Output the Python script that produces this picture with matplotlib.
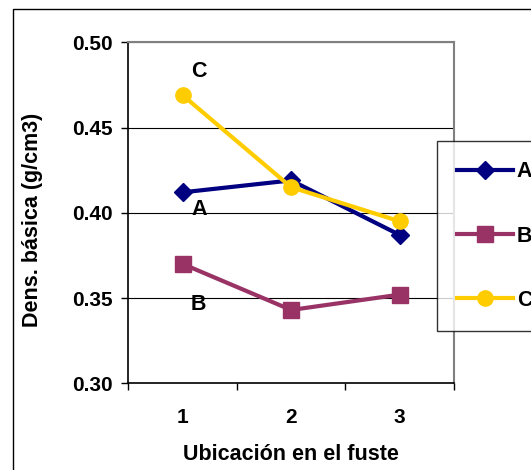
import matplotlib.pyplot as plt
from matplotlib.patches import Rectangle

# Densidad básica por ubicación en el fuste
posiciones = [1, 2, 3]
etiquetas_x = ["1", "2", "3"]
dens_a = [0.412, 0.419, 0.387]
dens_b = [0.370, 0.343, 0.352]
dens_c = [0.469, 0.415, 0.395]

plt.rcParams["font.family"] = ["Liberation Sans", "DejaVu Sans"]
plt.rcParams["font.weight"] = "bold"

fs = 15.5

fig = plt.figure(figsize=(5.31, 4.70), dpi=100)
ax = fig.add_axes([0.2416, 0.1845, 0.6134, 0.7255])

# marco exterior del gráfico
fig.patches.append(
    Rectangle((13 / 531, -0.1), 1.2, 1 - 9 / 470 + 0.1,
              transform=fig.transFigure, fill=False,
              edgecolor="black", linewidth=1.0)
)

ax.plot(posiciones, dens_a, color="#000080", marker="D", markersize=9,
        linewidth=3, label="A", zorder=3)
ax.plot(posiciones, dens_b, color="#993366", marker="s", markersize=11,
        linewidth=3, label="B", zorder=3)
ax.plot(posiciones, dens_c, color="#FFCC00", marker="o", markersize=11,
        linewidth=3, label="C", zorder=4)

ax.text(1.15, 0.483, "C", fontsize=fs, fontweight="bold", ha="center", va="center")
ax.text(1.15, 0.402, "A", fontsize=fs, fontweight="bold", ha="center", va="center")
ax.text(1.15, 0.346, "B", fontsize=fs, fontweight="bold", ha="center", va="center")

ax.set_xlim(0.5, 3.5)
ax.set_ylim(0.30, 0.50)
ax.set_yticks([0.30, 0.35, 0.40, 0.45, 0.50])
ax.set_yticklabels(["0.30", "0.35", "0.40", "0.45", "0.50"])
ax.yaxis.grid(True, color="black", linewidth=0.8)
ax.set_axisbelow(True)

# marcas en los límites de categoría, etiquetas en el centro
ax.set_xticks([0.5, 1.5, 2.5, 3.5])
ax.set_xticklabels([])
ax.set_xticks(posiciones, minor=True)
ax.set_xticklabels(etiquetas_x, minor=True)
ax.tick_params(axis="x", which="major", direction="out", length=5, width=1)
ax.tick_params(axis="x", which="minor", length=0, pad=18, labelsize=15)
ax.tick_params(axis="y", direction="out", length=5, width=1, pad=6, labelsize=15)

for lado in ["top", "right"]:
    ax.spines[lado].set_color("#808080")
    ax.spines[lado].set_linewidth(1.5)
for lado in ["left", "bottom"]:
    ax.spines[lado].set_color("black")
    ax.spines[lado].set_linewidth(1.2)

ax.set_ylabel("Dens. básica (g/cm3)", fontsize=fs, fontweight="bold")
ax.yaxis.set_label_coords(-0.294, 0.48)
ax.yaxis.label.set_va("center")
ax.set_xlabel("Ubicación en el fuste", fontsize=fs, fontweight="bold")
ax.xaxis.set_label_coords(0.5, -0.21)
ax.xaxis.label.set_va("center")

leg = fig.legend(loc="upper left", bbox_to_anchor=(437 / 531, 1 - 141 / 470),
                 fontsize=fs, frameon=True, fancybox=False, edgecolor="black",
                 borderpad=0.95, handlelength=2.6, handletextpad=0.15,
                 labelspacing=2.0, borderaxespad=0)
leg.get_frame().set_linewidth(1.0)

plt.savefig("out.png", dpi=100)
plt.close()
